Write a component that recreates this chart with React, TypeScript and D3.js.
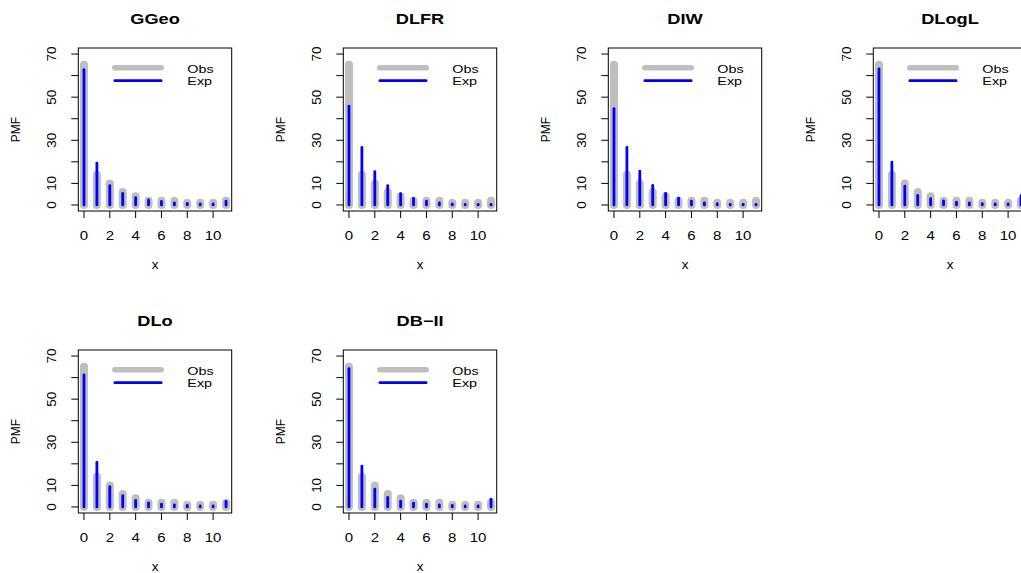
import React from "react";
import * as d3 from "d3";

const xValues = [0, 1, 2, 3, 4, 5, 6, 7, 8, 9, 10, 11];
const observed = [65, 14, 10, 6, 4, 2, 2, 2, 1, 1, 1, 2];
const expGGeo = [62.8, 19.4, 9.0, 5.4, 3.4, 2.3, 1.6, 1.0, 0.7, 0.5, 0.5, 1.8];
const expDLFR = [45.8, 26.7, 15.5, 9.0, 5.2, 3.0, 1.8, 0.9, 0.5, 0.3, 0.3, 0.3];
const expDIW = [44.7, 26.7, 15.7, 9.1, 5.4, 3.2, 1.8, 1.0, 0.6, 0.3, 0.3, 0.3];
const expDLogL = [63.1, 19.9, 8.7, 4.4, 2.9, 1.9, 1.3, 0.9, 0.6, 0.5, 0.5, 4.3];
const expDLo = [61.2, 20.7, 9.4, 5.2, 3.0, 1.9, 1.3, 1.0, 0.7, 0.5, 0.5, 2.6];
const expDBII = [64.2, 18.9, 8.3, 4.4, 2.7, 1.8, 1.3, 1.0, 0.7, 0.5, 0.5, 3.6];
const panelTitles = ["GGeo", "DLFR", "DIW", "DLogL", "DLo", "DB\u2212II"];
const yTicks = [0, 10, 20, 30, 40, 50, 60, 70];
const yTickLabels = [0, 10, 30, 50, 70];
const xTicks = [0, 2, 4, 6, 8, 10];
const legendLabels = ["Obs", "Exp"];

const panels = [
  { title: panelTitles[0], exp: expGGeo },
  { title: panelTitles[1], exp: expDLFR },
  { title: panelTitles[2], exp: expDIW },
  { title: panelTitles[3], exp: expDLogL },
  { title: panelTitles[4], exp: expDLo },
  { title: panelTitles[5], exp: expDBII },
];

const FONT = "'Liberation Sans', Arial, Helvetica, sans-serif";
const GREY = "#BEBEBE";
const BLUE = "#0000FF";
const SX = 1.25;

function T({ x, y, size, anchor = "start", bold = false, sx = SX, children }: any) {
  return (
    <text transform={`translate(${x},${y}) scale(${sx},1)`} textAnchor={anchor}
      fontFamily={FONT} fontSize={size} fontWeight={bold ? "bold" : "normal"} fill="#000">{children}</text>
  );
}

function Panel({ col, row, title, exp }: { col: number; row: number; title: string; exp: number[] }) {
  const ox = col * 265;
  const oy = row * 302;
  const left = 78.3 + ox;
  const right = 231.7 + ox;
  const top = 48 + oy;
  const bottom = 211 + oy;
  const x = d3.scaleLinear().domain([-0.44, 11.44]).range([left, right]);
  const y = d3.scaleLinear().domain([-2.8, 72.8]).range([bottom, top]);
  const cx = (left + right) / 2;
  const cy = (top + bottom) / 2;
  const tick = 7;
  return (
    <g>
      {xValues.map((v, i) => (
        <line key={"o" + i} x1={x(v)} x2={x(v)} y1={y(0)} y2={y(observed[i])}
          stroke={GREY} strokeWidth={8} strokeLinecap="round" />
      ))}
      {xValues.map((v, i) => (
        <line key={"e" + i} x1={x(v)} x2={x(v)} y1={y(0)} y2={y(exp[i])}
          stroke={BLUE} strokeWidth={2.8} strokeLinecap="round" />
      ))}
      <rect x={left} y={top} width={right - left} height={bottom - top} fill="none" stroke="#000" strokeWidth={1} />
      {yTicks.map((t) => (
        <line key={"yt" + t} x1={left - tick} x2={left} y1={y(t)} y2={y(t)} stroke="#000" strokeWidth={1} />
      ))}
      {yTickLabels.map((t) => (
        <text key={"yl" + t} transform={`translate(${left - 22.5},${y(t)}) rotate(-90) scale(1.12,1)`} textAnchor="middle"
          fontFamily={FONT} fontSize={12} fill="#000">{t}</text>
      ))}
      {xTicks.map((t) => (
        <line key={"xt" + t} x1={x(t)} x2={x(t)} y1={bottom} y2={bottom + tick} stroke="#000" strokeWidth={1} />
      ))}
      {xTicks.map((t) => (
        <T key={"xl" + t} x={x(t)} y={bottom + 28.5} size={12} anchor="middle">{t}</T>
      ))}
      <T x={cx} y={bottom + 58} size={12.5} anchor="middle" sx={1.08}>x</T>
      <text transform={`translate(${ox + 19.5},${cy}) rotate(-90)`} textAnchor="middle"
        fontFamily={FONT} fontSize={12} fill="#000">PMF</text>
      <T x={cx} y={oy + 24} size={14} anchor="middle" bold sx={1.3}>{title}</T>
      <line x1={ox + 114.8} x2={ox + 161.2} y1={oy + 67.7} y2={oy + 67.7} stroke={GREY} strokeWidth={5.5} strokeLinecap="round" />
      <line x1={ox + 114.8} x2={ox + 161.2} y1={oy + 80.7} y2={oy + 80.7} stroke={BLUE} strokeWidth={2.7} strokeLinecap="round" />
      <T x={ox + 187.3} y={oy + 72.8} size={11.5}>{legendLabels[0]}</T>
      <T x={ox + 187.3} y={oy + 84.6} size={11.5}>{legendLabels[1]}</T>
    </g>
  );
}

export default function App() {
  return (
    <svg width={1021} height={573} style={{ position: "absolute", left: 0, top: 0, background: "#fff" }}>
      <rect x={0} y={0} width={1021} height={573} fill="#fff" />
      {panels.map((p, i) => (
        <Panel key={i} col={i % 4} row={Math.floor(i / 4)} title={p.title} exp={p.exp} />
      ))}
    </svg>
  );
}
